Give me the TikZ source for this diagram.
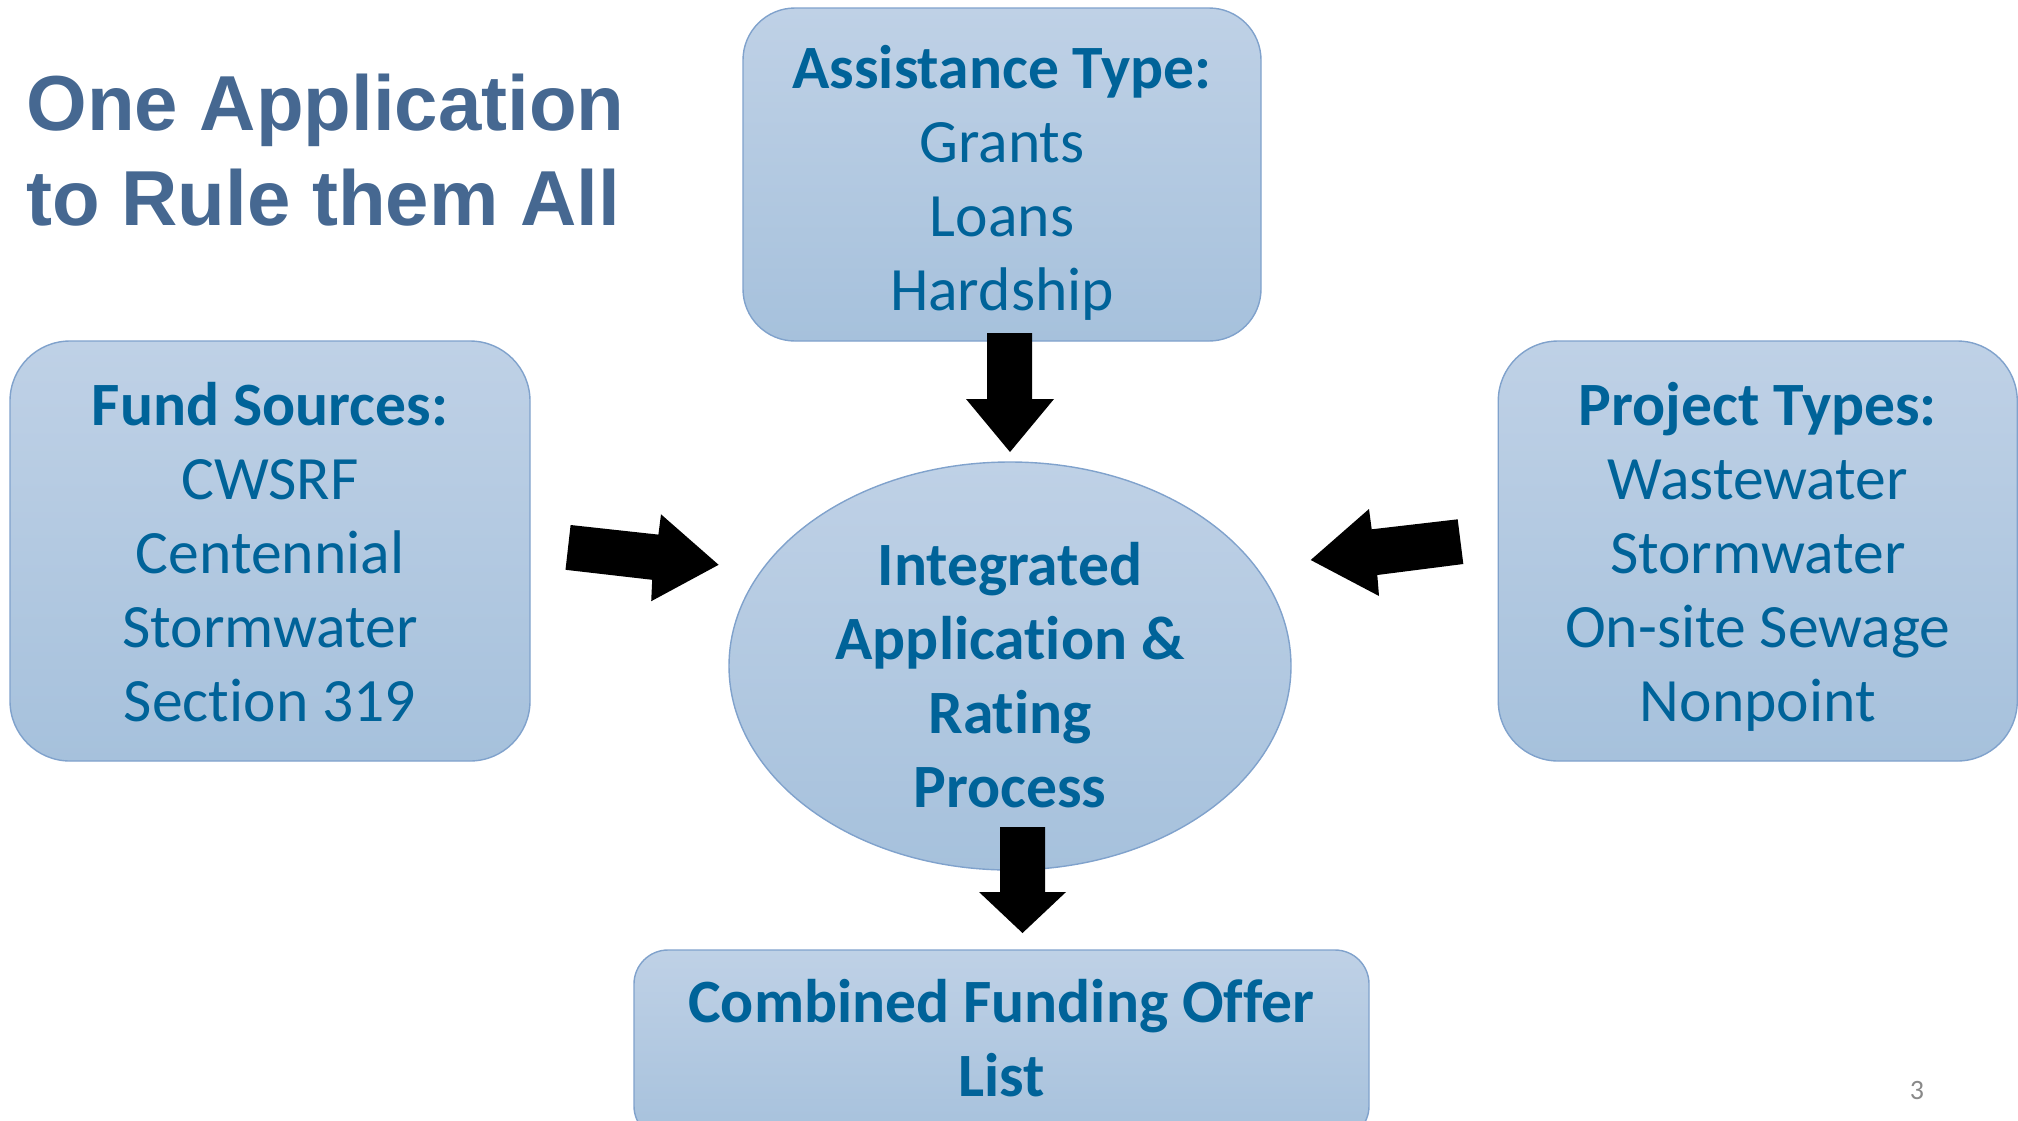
\documentclass[tikz,border=0pt]{standalone}
\usepackage{fontspec}
\setmainfont{Carlito}[Ligatures=NoCommon]
\newfontfamily\titlefont{Liberation Sans}
\usetikzlibrary{shapes.geometric}
\definecolor{txtblue}{RGB}{0,99,153}
\definecolor{titleblue}{RGB}{70,104,145}
\definecolor{boxtop}{RGB}{191,209,230}
\definecolor{boxbot}{RGB}{166,193,220}
\definecolor{boxline}{RGB}{128,162,204}
\definecolor{pagegray}{RGB}{137,137,137}
\newcommand\firststrut{\rule{0pt}{25pt}}
\newcommand\titlestrut{\rule{0pt}{30pt}}
\begin{document}
\begin{tikzpicture}[x=0.5pt,y=-0.5pt,
  panel/.style={draw=boxline, line width=0.7pt, top color=boxtop, bottom color=boxbot, inner sep=0pt, outer sep=0pt},
  roundbox/.style={panel, rectangle, rounded corners=#1},
  txt/.style={text=txtblue, align=center, inner sep=0pt, anchor=north, font=\fontsize{30.8}{37}\selectfont},
  txtb/.style={txt, font=\bfseries\fontsize{30.8}{37}\selectfont},
  blockarrow/.style={fill=black, draw=none}
]
\useasboundingbox (0,0) rectangle (2018,1120);
\clip (0,0) rectangle (2018,1120);

% title
\node[anchor=north west, align=left, inner sep=0pt, text=titleblue,
      font=\titlefont\bfseries\fontsize{39}{47.5}\selectfont] (title) at (26,70)
      {\titlestrut One Application\\to Rule them All};

% boxes
\node[roundbox=26pt, minimum width=259pt, minimum height=166.5pt] (assist) at (1002,174.5) {};
\node[roundbox=30pt, minimum width=260pt, minimum height=210pt] (fund) at (270,551) {};
\node[roundbox=30pt, minimum width=259.5pt, minimum height=210pt] (proj) at (1757.75,551) {};
\node[panel, ellipse, minimum width=281pt, minimum height=204pt] (integ) at (1010,666) {};
\node[roundbox=17pt, minimum width=367.5pt, minimum height=95pt] (comb) at (1001.5,1045) {};

% texts
\node[txt] (assistT) at (assist.center |- 0,38) {\firststrut\textbf{Assistance Type:}\\Grants\\Loans\\Hardship};
\node[txt] (fundT) at (fund.center |- 0,375) {\firststrut\textbf{Fund Sources:}\\CWSRF\\Centennial\\Stormwater\\Section 319};
\node[txt] (projT) at (proj.center |- 0,375) {\firststrut\textbf{Project Types:}\\Wastewater\\Stormwater\\On-site Sewage\\Nonpoint};
\node[txtb] (integT) at (integ.center |- 0,535) {\firststrut Integrated\\Application \&\\Rating\\Process};
\node[txtb] (combT) at (comb.center |- 0,972) {\firststrut Combined Funding Offer\\List};

% block arrows
\fill[blockarrow] (987,333) -- (1032,333) -- (1032,399) -- (1054,399) -- (1010,452) -- (966,399) -- (987,399) -- cycle;
\fill[blockarrow] (1000,827) -- (1045,827) -- (1045,892) -- (1066,892) -- (1022.5,933) -- (979,892) -- (1000,892) -- cycle;
\fill[blockarrow] (570.6,525) -- (658.4,534.6) -- (661,514.3) -- (718.6,564.8) -- (651.2,601.2) -- (652.2,579.8) -- (565.5,569.8) -- cycle;
\fill[blockarrow] (1457.7,519.3) -- (1371.7,529.3) -- (1369,509) -- (1310.7,560) -- (1379,596) -- (1377.3,575) -- (1463.3,564) -- cycle;

% page number
\node[anchor=base, inner sep=0pt, text=pagegray, font=\fontsize{14}{16}\selectfont] (pnum) at (1917,1099) {3};
\end{tikzpicture}
\end{document}
